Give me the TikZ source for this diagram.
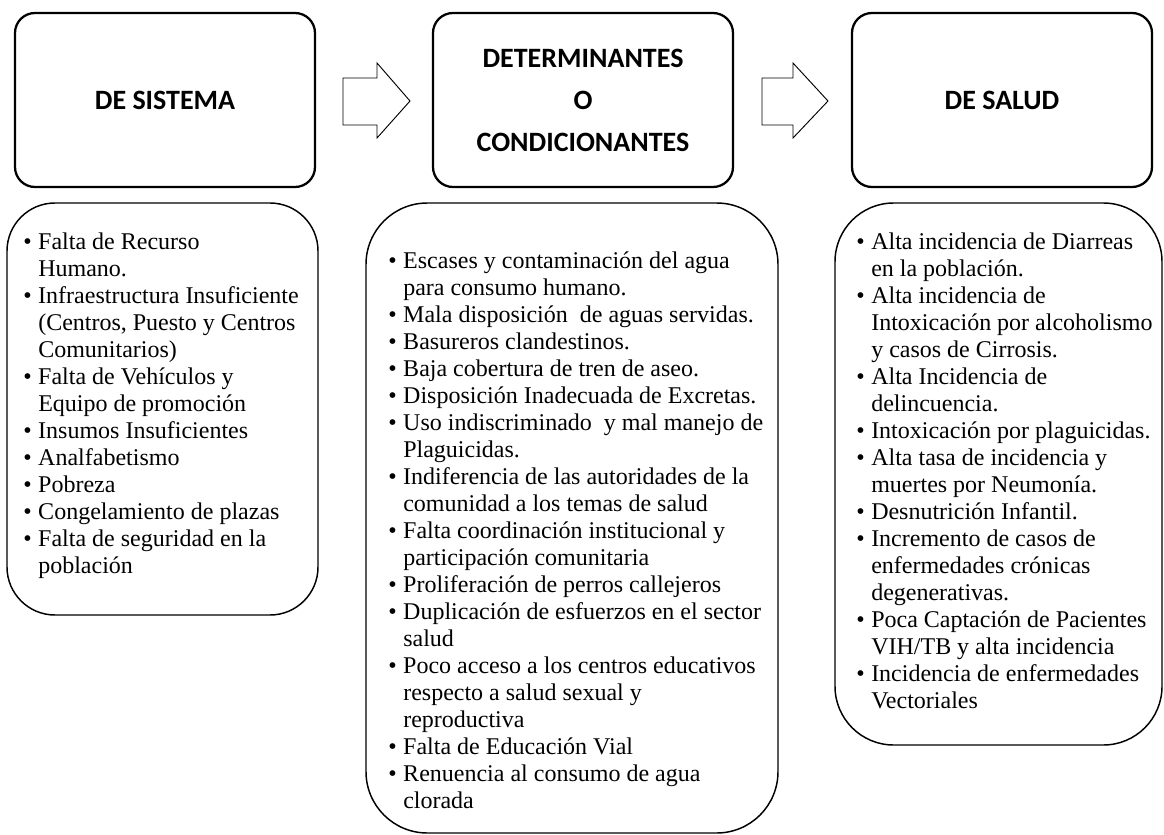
\documentclass[tikz,border=0pt]{standalone}
\usepackage{fontspec}
\setmainfont{Liberation Serif}
\newfontfamily\hdfont{Carlito}
\newcommand\bitem[1]{\makebox[11.25pt][l]{\textbullet}#1}
\newcommand\cont[1]{\hspace*{11.25pt}#1}
\tikzset{
  topbox/.style={draw=black, line width=1.7pt, rounded corners=15pt, align=center, inner sep=0pt,
    font=\hdfont\bfseries\fontsize{21}{31.5}\selectfont},
  listbox/.style={draw=black, line width=1.1pt, inner sep=0pt},
  blockarrow/.style={draw=black, line width=0.7pt, fill=white, line join=miter},
  lst/.style={anchor=base west, inner sep=0pt, font=\fontsize{18}{20.25}\selectfont}
}
\begin{document}
\begin{tikzpicture}[x=0.75pt,y=-0.75pt]
\useasboundingbox (0,0) rectangle (1164,835);
% top boxes
\node (t1) [topbox, minimum width=225pt, minimum height=130.5pt] at (165,100) {DE SISTEMA};
\node (t2) [topbox, minimum width=225pt, minimum height=130.5pt] at (583,100) {DETERMINANTES\\O\\CONDICIONANTES};
\node (t3) [topbox, minimum width=225pt, minimum height=130.5pt] at (1002,100) {DE SALUD};
% block arrows
\draw[blockarrow] (343,78) -- (377,78) -- (377,63) -- (410,101) -- (377,138) -- (377,125) -- (343,125) -- cycle;
\draw[blockarrow] (762,78) -- (793,78) -- (793,63) -- (828,101) -- (793,138) -- (793,125) -- (762,125) -- cycle;
% bottom boxes
\node (b1) [listbox, rounded corners=36pt, minimum width=233.25pt, minimum height=309pt] at (162.5,409) {};
\node (b2) [listbox, rounded corners=46pt, minimum width=309pt, minimum height=472.5pt] at (572,518) {};
\node (b3) [listbox, rounded corners=44pt, minimum width=245.25pt, minimum height=406.5pt] at (998.5,474) {};
% texts
\node (l1) [lst] at (23,249) {\parbox[t]{300pt}{\raggedright
\bitem{Falta de Recurso}\\
\cont{Humano.}\\
\bitem{Infraestructura Insuficiente}\\
\cont{(Centros, Puesto y Centros}\\
\cont{Comunitarios)}\\
\bitem{Falta de Vehículos y}\\
\cont{Equipo de promoción}\\
\bitem{Insumos Insuficientes}\\
\bitem{Analfabetismo}\\
\bitem{Pobreza}\\
\bitem{Congelamiento de plazas}\\
\bitem{Falta de seguridad en la}\\
\cont{población}}};
\node (l2) [lst] at (388,268) {\parbox[t]{380pt}{\raggedright
\bitem{Escases y contaminación del agua}\\
\cont{para consumo humano.}\\
\bitem{Mala disposición~ de aguas servidas.}\\
\bitem{Basureros clandestinos.}\\
\bitem{Baja cobertura de tren de aseo.}\\
\bitem{Disposición Inadecuada de Excretas.}\\
\bitem{Uso indiscriminado~ y mal manejo de}\\
\cont{Plaguicidas.}\\
\bitem{Indiferencia de las autoridades de la}\\
\cont{comunidad a los temas de salud}\\
\bitem{Falta coordinación institucional y}\\
\cont{participación comunitaria}\\
\bitem{Proliferación de perros callejeros}\\
\bitem{Duplicación de esfuerzos en el sector}\\
\cont{salud}\\
\bitem{Poco acceso a los centros educativos}\\
\cont{respecto a salud sexual y}\\
\cont{reproductiva}\\
\bitem{Falta de Educación Vial}\\
\bitem{Renuencia al consumo de agua}\\
\cont{clorada}}};
\node (l3) [lst] at (856,249) {\parbox[t]{300pt}{\raggedright
\bitem{Alta incidencia de Diarreas}\\
\cont{en la población.}\\
\bitem{Alta incidencia de}\\
\cont{Intoxicación por alcoholismo}\\
\cont{y casos de Cirrosis.}\\
\bitem{Alta Incidencia de}\\
\cont{delincuencia.}\\
\bitem{Intoxicación por plaguicidas.}\\
\bitem{Alta tasa de incidencia y}\\
\cont{muertes por Neumonía.}\\
\bitem{Desnutrición Infantil.}\\
\bitem{Incremento de casos de}\\
\cont{enfermedades crónicas}\\
\cont{degenerativas.}\\
\bitem{Poca Captación de Pacientes}\\
\cont{VIH/TB y alta incidencia}\\
\bitem{Incidencia de enfermedades}\\
\cont{Vectoriales}}};
\end{tikzpicture}
\end{document}
